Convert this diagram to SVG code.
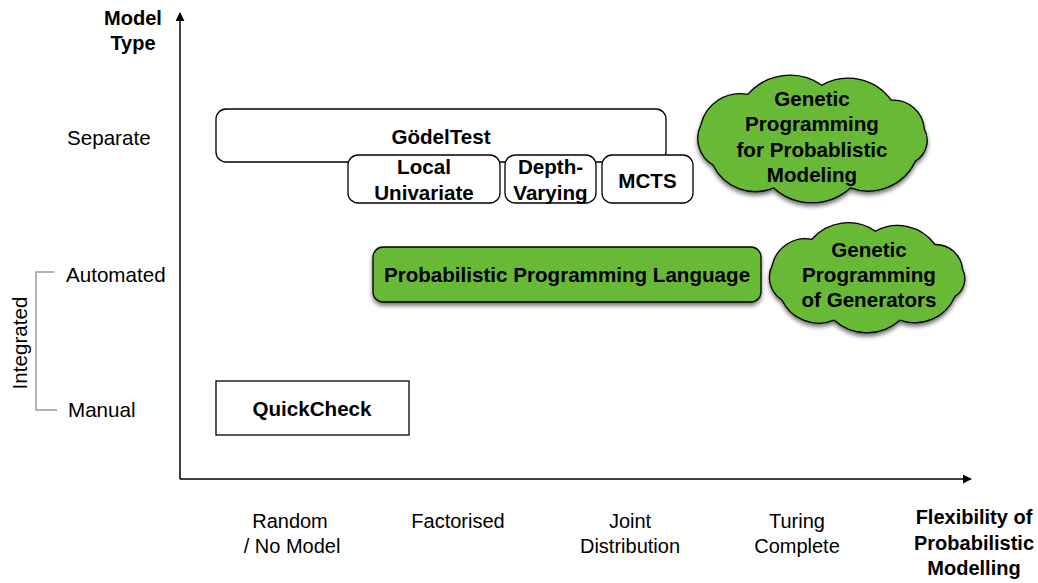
<svg xmlns="http://www.w3.org/2000/svg" width="1038" height="583" viewBox="0 0 1038 583">
<style>
text{font-family:"Liberation Sans",Arial,sans-serif;font-size:20px;fill:#000}
.b{font-weight:bold}
.n{font-size:20.6px}
.m{text-anchor:middle}
.box{fill:#fff;stroke:#000;stroke-width:1.3}
.green{fill:#67b934;stroke:#000;stroke-width:1.3}
.axis{stroke:#000;stroke-width:1.5;fill:none}
.br{stroke:#999;stroke-width:1.5;fill:none}
</style>
<defs>
<marker id="arr" viewBox="0 0 10 10" refX="9" refY="5" markerWidth="9" markerHeight="9" markerUnits="userSpaceOnUse" orient="auto">
<path d="M0,0 L10,5 L0,10 z" fill="#000"/>
</marker>
<filter id="sh" x="-10%" y="-10%" width="125%" height="135%">
<feDropShadow dx="0" dy="3" stdDeviation="2" flood-color="#000" flood-opacity="0.55"/>
</filter>
</defs>

<g id="connectors">
<line class="axis" x1="180" y1="479" x2="180" y2="13" marker-end="url(#arr)"/>
<line class="axis" x1="180" y1="479" x2="971" y2="479" marker-end="url(#arr)"/>
<path class="br" d="M54,272 H36 V410 H57"/>
</g>

<g id="axis-labels">
<text class="b m" x="133" y="25">Model</text>
<text class="b m" x="133" y="50">Type</text>
<text class="n" x="67" y="145">Separate</text>
<text class="n" x="66" y="282">Automated</text>
<text class="n" x="68" y="417">Manual</text>
<text class="m n" transform="translate(27,343) rotate(-90)">Integrated</text>
<text class="m" x="290" y="528">Random</text>
<text class="m" x="292" y="553">/ No Model</text>
<text class="m" x="458" y="528">Factorised</text>
<text class="m" x="630" y="528">Joint</text>
<text class="m" x="630" y="553">Distribution</text>
<text class="m" x="797" y="528">Turing</text>
<text class="m" x="797" y="553">Complete</text>
<text class="b m" x="974" y="524">Flexibility of</text>
<text class="b m" x="974" y="550">Probabilistic</text>
<text class="b m" x="974" y="575">Modelling</text>
</g>

<g id="godeltest">
<rect class="box" x="216" y="109" width="450" height="53" rx="10"/>
<text class="b m n" x="441" y="144">GödelTest</text>
</g>
<g id="local-univariate">
<rect class="box" x="348" y="155" width="152" height="48" rx="10"/>
<text class="b m n" x="424" y="174">Local</text>
<text class="b m n" x="424" y="200">Univariate</text>
</g>
<g id="depth-varying">
<rect class="box" x="505" y="155" width="91" height="48" rx="10"/>
<text class="b m n" x="550.5" y="174">Depth-</text>
<text class="b m n" x="550.5" y="200">Varying</text>
</g>
<g id="mcts">
<rect class="box" x="602" y="155" width="91" height="48" rx="10"/>
<text class="b m n" x="647.5" y="188">MCTS</text>
</g>

<g id="gp-prob-modeling">
<path class="green" filter="url(#sh)" d="M701,124.5 A40,40 0 0 1 747.8,94.4 A56,56 0 0 1 821.8,85.2 A53,53 0 0 1 891.2,100.2 A31,31 0 0 1 924.3,129 A24,24 0 0 1 915.5,161 A52,52 0 0 1 850.3,187.9 A57,57 0 0 1 773.7,187.9 A47,47 0 0 1 713,165 A31,31 0 0 1 701,124.5 Z"/>
<text class="b m n" x="812" y="106">Genetic</text>
<text class="b m n" x="812" y="131">Programming</text>
<text class="b m n" x="812" y="157">for Probablistic</text>
<text class="b m n" x="812" y="182">Modeling</text>
</g>

<g id="ppl">
<rect class="green" filter="url(#sh)" x="373" y="247" width="388" height="55" rx="10"/>
<text class="b m n" x="567" y="282">Probabilistic Programming Language</text>
</g>

<g id="gp-generators">
<path class="green" filter="url(#sh)" d="M772.3,265.1 A34,34 0 0 1 811.9,239.3 A48,48 0 0 1 875.4,231.2 A46,46 0 0 1 934.9,244.5 A27,27 0 0 1 962.5,269 A21,21 0 0 1 955,296.4 A44,44 0 0 1 899.8,320.2 A49,49 0 0 1 834.2,320.2 A41,41 0 0 1 781.9,300 A27,27 0 0 1 772.3,265.1 Z"/>
<text class="b m n" x="869" y="257">Genetic</text>
<text class="b m n" x="869" y="282">Programming</text>
<text class="b m n" x="869" y="307">of Generators</text>
</g>

<g id="quickcheck">
<rect class="box" x="216" y="381" width="193" height="54"/>
<text class="b m n" x="312" y="416">QuickCheck</text>
</g>
</svg>
